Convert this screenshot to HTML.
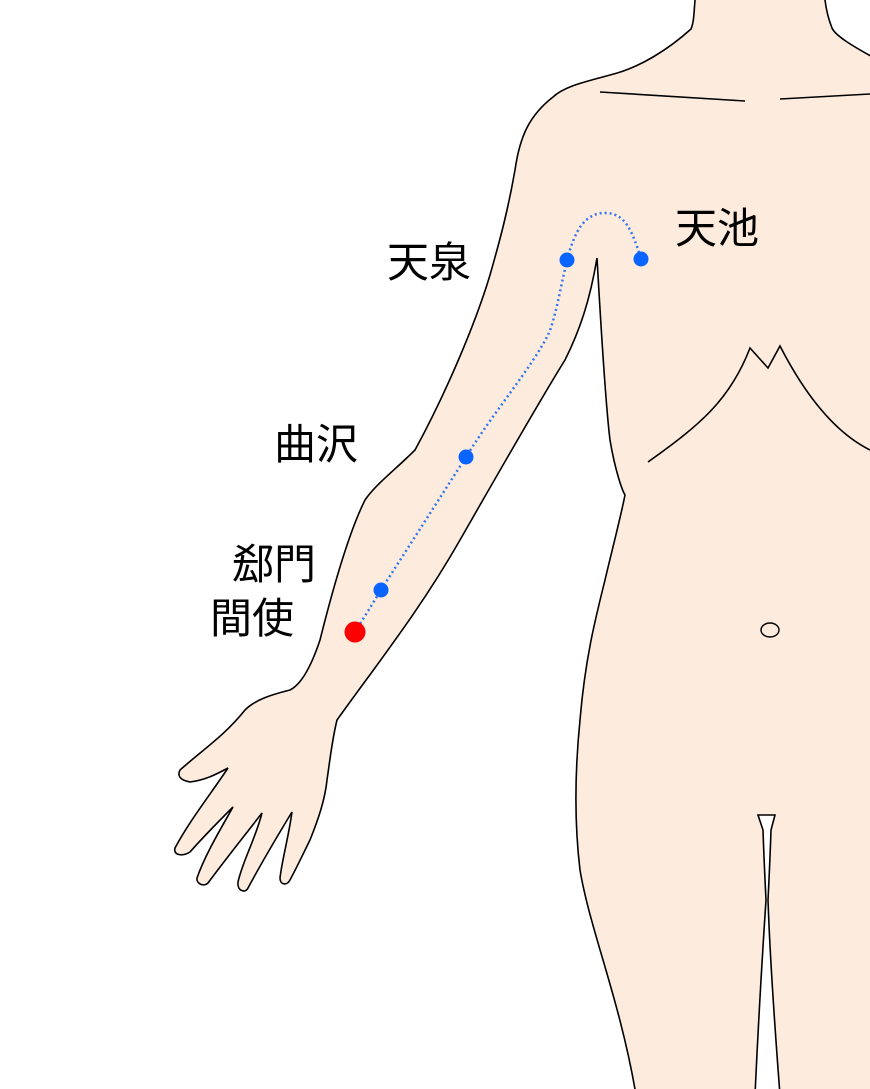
<!DOCTYPE html>
<html><head><meta charset="utf-8"><style>
html,body{margin:0;padding:0;background:#fff;}
svg{display:block;}
text{font-family:"Liberation Sans","Noto Sans CJK JP",sans-serif;font-size:42px;fill:#000;}
</style></head><body>
<svg width="870" height="1089" viewBox="0 0 870 1089" xmlns="http://www.w3.org/2000/svg">
<path d="M695,-5 L695,0 C694,12 694,22 691,29 C670,48 640,68 610,75 C585,82 565,86 553,97 C530,115 520,135 515,170 C508,210 500,240 490,275 C475,325 445,395 415,450 C395,470 375,485 365,500 C350,530 335,580 320,640 C310,670 300,685 290,690 C270,695 255,700 245,710 C225,735 205,748 180,770 C177,776 180,780 190,782 C205,780 215,775 228,768 C210,795 190,820 175,848 C173,855 182,857 190,852 C205,835 220,820 233,807 C220,830 205,855 197,878 C196,884 204,887 208,883 C225,860 245,835 262,813 C255,840 243,860 238,882 C237,892 246,893 248,888 C262,862 278,835 292,812 C288,840 282,860 280,878 C280,885 287,886 290,880 C298,865 305,850 310,840 C318,820 325,800 327,780 C330,760 332,740 337,720 C380,660 420,610 460,540 C500,470 540,400 565,360 C580,330 590,300 597,258 C600,310 605,400 610,440 C615,470 622,490 625,495 C620,520 612,550 605,580 C595,620 585,660 580,720 C575,770 574,820 580,870 C590,930 620,1000 636,1095 L880,1095 L880,61 C850,45 835,35 832,28 C828,18 826,8 825,0 L825,-5 Z" fill="#fdebdd" stroke="#000" stroke-width="1.6"/>
<path d="M758,815 L775,815 L771,830 C770,860 769,880 768,900 C770,960 775,1030 780,1095 L755,1095 C758,1030 762,960 766,900 C765,880 764,860 763,830 Z" fill="#fff" stroke="#000" stroke-width="1.6"/>
<line x1="600" y1="92" x2="745" y2="101" stroke="#000" stroke-width="1.6"/>
<line x1="780" y1="99" x2="870" y2="94" stroke="#000" stroke-width="1.6"/>
<path d="M648,462 C700,425 730,400 750,348 L768,368 L780,346 C800,385 830,430 870,450" fill="none" stroke="#000" stroke-width="1.6"/>
<ellipse cx="770" cy="630" rx="9" ry="7" fill="none" stroke="#000" stroke-width="1.4"/>
<path d="M567,260 C575,230 585,213 605,213 C625,213 632,230 641,259 M567,260 C560,290 555,320 548,335 C530,370 495,410 466,457 L381,590 L355,632" fill="none" stroke="#3377ee" stroke-width="2.5" stroke-dasharray="2,3"/>
<circle cx="567" cy="260" r="7.5" fill="#0a64ff"/>
<circle cx="641" cy="259" r="7.5" fill="#0a64ff"/>
<circle cx="466" cy="457" r="7.5" fill="#0a64ff"/>
<circle cx="381" cy="590" r="7.5" fill="#0a64ff"/>
<circle cx="355" cy="632" r="10.5" fill="#ff0000"/>
<text x="675" y="243">天池</text>
<text x="387" y="277">天泉</text>
<text x="274" y="459">曲沢</text>
<text x="232" y="579">郄門</text>
<text x="210" y="633">間使</text>
</svg>
</body></html>
